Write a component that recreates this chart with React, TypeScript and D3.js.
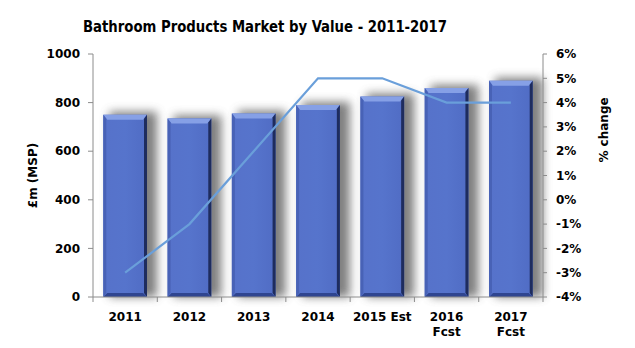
import React, { useEffect, useRef } from "react";
import * as d3 from "d3";

// data
const categories = ["2011", "2012", "2013", "2014", "2015 Est", "2016\nFcst", "2017\nFcst"];
const marketValue = [750, 735, 755, 790, 825, 860, 890];
const pctChange = [-3, -1, 2, 5, 5, 4, 4];
const leftTicks = [0, 200, 400, 600, 800, 1000];
const rightTicks = [-4, -3, -2, -1, 0, 1, 2, 3, 4, 5, 6];

const width = 635;
const height = 348;
const margin = { top: 54, right: 92, bottom: 51, left: 93 };
const font = "'DejaVu Sans', Verdana, sans-serif";

export default function App() {
  const ref = useRef<SVGSVGElement>(null);

  useEffect(() => {
    const svg = d3.select(ref.current);
    svg.selectAll("*").remove();

    const x0 = margin.left;
    const x1 = width - margin.right;
    const yBottom = height - margin.bottom;

    const xScale = d3.scaleBand().domain(categories).range([x0, x1]).padding(0);
    const yLeft = d3.scaleLinear().domain([0, 1000]).range([yBottom, margin.top]);
    const yRight = d3.scaleLinear().domain([-4, 6]).range([yBottom, margin.top]);

    const defs = svg.append("defs");
    defs.append("filter").attr("id", "shadow")
      .attr("x", "-50%").attr("y", "-20%").attr("width", "200%").attr("height", "140%")
      .append("feGaussianBlur").attr("stdDeviation", 5);

    const grad = defs.append("linearGradient").attr("id", "barFill")
      .attr("x1", "0").attr("x2", "1").attr("y1", "0").attr("y2", "0");
    grad.append("stop").attr("offset", "0%").attr("stop-color", "#5672ca");
    grad.append("stop").attr("offset", "50%").attr("stop-color", "#5674cc");
    grad.append("stop").attr("offset", "100%").attr("stop-color", "#506cc4");

    const step = xScale.bandwidth();
    const bw = step * 0.68;
    const bev = 4;

    const bars = svg.append("g").selectAll("g")
      .data(categories.map((c, i) => ({ c, v: marketValue[i] })))
      .join("g");

    // soft grey shadow to the right
    bars.append("rect")
      .attr("x", d => xScale(d.c)! + (step - bw) / 2 + 6)
      .attr("y", d => yLeft(d.v) - 3)
      .attr("width", bw + 4)
      .attr("height", d => yBottom - yLeft(d.v) + 3)
      .attr("fill", "#555")
      .attr("opacity", 0.75)
      .attr("filter", "url(#shadow)");

    bars.each(function (d) {
      const g = d3.select(this);
      const bx = xScale(d.c)! + (step - bw) / 2;
      const by = yLeft(d.v);
      const bh = yBottom - by;
      g.append("rect").attr("x", bx).attr("y", by).attr("width", bw).attr("height", bh)
        .attr("fill", "url(#barFill)");
      // top bevel
      g.append("polygon")
        .attr("points", `${bx},${by} ${bx + bw},${by} ${bx + bw - bev},${by + bev + 1} ${bx + bev},${by + bev + 1}`)
        .attr("fill", "#86a0e6");
      // left bevel
      g.append("polygon")
        .attr("points", `${bx},${by} ${bx + bev - 1},${by + bev} ${bx + bev - 1},${by + bh - bev} ${bx},${by + bh}`)
        .attr("fill", "#4862b6");
      // right bevel
      g.append("polygon")
        .attr("points", `${bx + bw},${by} ${bx + bw},${by + bh} ${bx + bw - bev + 1},${by + bh - bev} ${bx + bw - bev + 1},${by + bev}`)
        .attr("fill", "#1e2c5e");
      // bottom bevel
      g.append("polygon")
        .attr("points", `${bx},${by + bh} ${bx + bw},${by + bh} ${bx + bw - bev},${by + bh - bev} ${bx + bev},${by + bh - bev}`)
        .attr("fill", "#2f4590");
    });

    // % change line
    const line = d3.line<number>()
      .x((_, i) => xScale(categories[i])! + step / 2)
      .y(d => yRight(d));
    svg.append("path")
      .attr("d", line(pctChange))
      .attr("fill", "none")
      .attr("stroke", "#6a9fda")
      .attr("stroke-width", 2.2);

    // axes
    const axisColor = "#8c8c8c";
    const ax = svg.append("g").attr("stroke", axisColor).attr("stroke-width", 1);
    ax.append("line").attr("x1", x0).attr("x2", x0).attr("y1", margin.top).attr("y2", yBottom);
    ax.append("line").attr("x1", x1).attr("x2", x1).attr("y1", margin.top).attr("y2", yBottom);
    ax.append("line").attr("x1", x0).attr("x2", x1).attr("y1", yBottom).attr("y2", yBottom);

    leftTicks.forEach(t => {
      ax.append("line").attr("x1", x0 - 5).attr("x2", x0).attr("y1", yLeft(t)).attr("y2", yLeft(t));
    });
    rightTicks.forEach(t => {
      ax.append("line").attr("x1", x1).attr("x2", x1 + 4).attr("y1", yRight(t)).attr("y2", yRight(t));
    });
    d3.range(categories.length + 1).forEach(i => {
      const tx = x0 + i * step;
      ax.append("line").attr("x1", tx).attr("x2", tx).attr("y1", yBottom).attr("y2", yBottom + 5);
    });

    const txt = svg.append("g").attr("font-family", font).attr("font-weight", "bold").attr("fill", "#000");

    txt.selectAll(".lt").data(leftTicks).join("text")
      .attr("x", x0 - 13).attr("y", d => yLeft(d)).attr("dy", "0.35em")
      .attr("text-anchor", "end").attr("font-size", 12).text(d => d);

    txt.selectAll(".rt").data(rightTicks).join("text")
      .attr("x", x1 + 13).attr("y", d => yRight(d)).attr("dy", "0.35em")
      .attr("text-anchor", "start").attr("font-size", 12).text(d => `${d}%`);

    categories.forEach(c => {
      const lines = c.split("\n");
      const t = txt.append("text")
        .attr("x", xScale(c)! + step / 2).attr("y", yBottom + 24)
        .attr("text-anchor", "middle").attr("font-size", 12);
      lines.forEach((l, i) => {
        t.append("tspan").attr("x", xScale(c)! + step / 2).attr("dy", i === 0 ? 0 : 15).text(l);
      });
    });

    txt.append("text")
      .attr("transform", `translate(37, ${(margin.top + yBottom) / 2}) rotate(-90)`)
      .attr("text-anchor", "middle").attr("font-size", 12).text("£m (MSP)");

    txt.append("text")
      .attr("transform", `translate(608, 130) rotate(-90)`)
      .attr("text-anchor", "middle").attr("font-size", 12).text("% change");

    txt.append("text")
      .attr("x", 265).attr("y", 32)
      .attr("text-anchor", "middle").attr("font-size", 16)
      .attr("font-family", "'DejaVu Sans Condensed', 'DejaVu Sans', sans-serif")
      .attr("textLength", 364).attr("lengthAdjust", "spacingAndGlyphs")
      .text("Bathroom Products Market by Value - 2011-2017");
  }, []);

  return (
    <div style={{ position: "absolute", left: 0, top: 0 }}>
      <svg ref={ref} width={width} height={height} style={{ display: "block", background: "#fff" }} />
    </div>
  );
}
